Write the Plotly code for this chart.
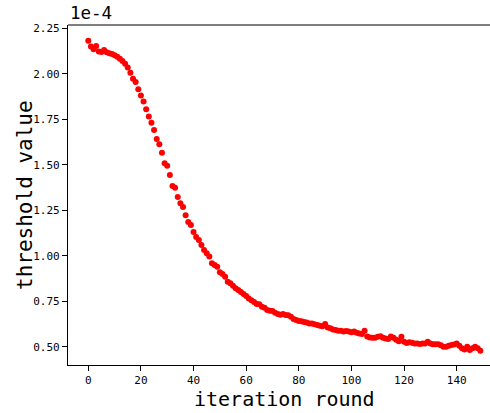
import plotly.graph_objects as go

# ---------------- data (threshold values in units of 1e-4) ----------------
iterations = list(range(150))
threshold_e4 = [
    2.182, 2.150, 2.135, 2.152, 2.122, 2.120, 2.130, 2.118, 2.113, 2.108,
    2.102, 2.093, 2.082, 2.070, 2.055, 2.035, 2.005, 1.972, 1.955, 1.915,
    1.880, 1.848, 1.805, 1.765, 1.731, 1.691, 1.641, 1.612, 1.566, 1.508,
    1.495, 1.443, 1.383, 1.374, 1.323, 1.288, 1.268, 1.222, 1.185, 1.169,
    1.130, 1.103, 1.086, 1.059, 1.031, 1.013, 0.996, 0.958, 0.949, 0.939,
    0.909, 0.900, 0.884, 0.857, 0.848, 0.835, 0.821, 0.811, 0.800, 0.790,
    0.778, 0.765, 0.755, 0.745, 0.735, 0.733, 0.720, 0.714, 0.701, 0.697,
    0.696, 0.687, 0.679, 0.675, 0.679, 0.674, 0.673, 0.664, 0.652, 0.646,
    0.641, 0.640, 0.636, 0.633, 0.628, 0.627, 0.623, 0.619, 0.615, 0.612,
    0.625, 0.606, 0.601, 0.595, 0.591, 0.587, 0.587, 0.583, 0.586, 0.583,
    0.579, 0.583, 0.577, 0.573, 0.570, 0.588, 0.556, 0.550, 0.549, 0.549,
    0.554, 0.558, 0.549, 0.545, 0.542, 0.556, 0.549, 0.538, 0.530, 0.554,
    0.527, 0.520, 0.524, 0.521, 0.518, 0.518, 0.515, 0.518, 0.518, 0.527,
    0.518, 0.514, 0.514, 0.513, 0.508, 0.500, 0.500, 0.505, 0.509, 0.512,
    0.518, 0.505, 0.491, 0.485, 0.500, 0.482, 0.491, 0.500, 0.491, 0.478,
]
x_ticks = [0, 20, 40, 60, 80, 100, 120, 140]
x_tick_labels = ["0", "20", "40", "60", "80", "100", "120", "140"]
y_ticks = [0.50, 0.75, 1.00, 1.25, 1.50, 1.75, 2.00, 2.25]
y_tick_labels = ["0.50", "0.75", "1.00", "1.25", "1.50", "1.75", "2.00", "2.25"]
scale_label = "1e-4"
x_title = "iteration round"
y_title = "threshold value"

# ---------------- figure ----------------
MONO = "DejaVu Sans Mono"
W, H = 490, 413
ML, MR, MT, MB = 68, 0, 25, 48

fig = go.Figure(
    go.Scatter(
        x=iterations,
        y=threshold_e4,
        mode="markers",
        marker=dict(color="#ff0000", size=6, line=dict(width=0)),
        showlegend=False,
    )
)

axis_common = dict(
    showgrid=False,
    zeroline=False,
    showline=True,
    linecolor="black",
    linewidth=1.2,
    ticks="outside",
    ticklen=5,
    tickwidth=1,
    tickcolor="black",
    tickfont=dict(family=MONO, size=11, color="black"),
)

fig.update_layout(
    width=W,
    height=H,
    margin=dict(l=ML, r=MR, t=MT, b=MB, pad=0),
    paper_bgcolor="white",
    plot_bgcolor="white",
    xaxis=dict(
        range=[-7.71, 152.66],
        tickmode="array",
        tickvals=x_ticks,
        ticktext=x_tick_labels,
        **axis_common,
    ),
    yaxis=dict(
        range=[0.3993, 2.268],
        tickmode="array",
        tickvals=y_ticks,
        ticktext=y_tick_labels,
        **axis_common,
    ),
    shapes=[
        dict(type="line", xref="paper", yref="paper", x0=0, x1=1, y0=1, y1=1,
             line=dict(color="black", width=1.2)),
    ],
    annotations=[
        dict(text=scale_label, xref="paper", yref="paper", x=0, y=1,
             xanchor="left", yanchor="middle", yshift=12.5, showarrow=False,
             font=dict(family=MONO, size=17.5, color="black")),
        dict(text=x_title, xref="paper", yref="paper", x=(284 - ML) / (W - ML - MR), y=0,
             xanchor="center", yanchor="middle", yshift=-34, showarrow=False,
             font=dict(family=MONO, size=20, color="black")),
        dict(text=y_title, xref="paper", yref="paper", x=0, y=0.5, textangle=-90,
             xanchor="center", yanchor="middle", xshift=-43, showarrow=False,
             font=dict(family=MONO, size=21, color="black")),
    ],
)

fig.write_html("out.html")
